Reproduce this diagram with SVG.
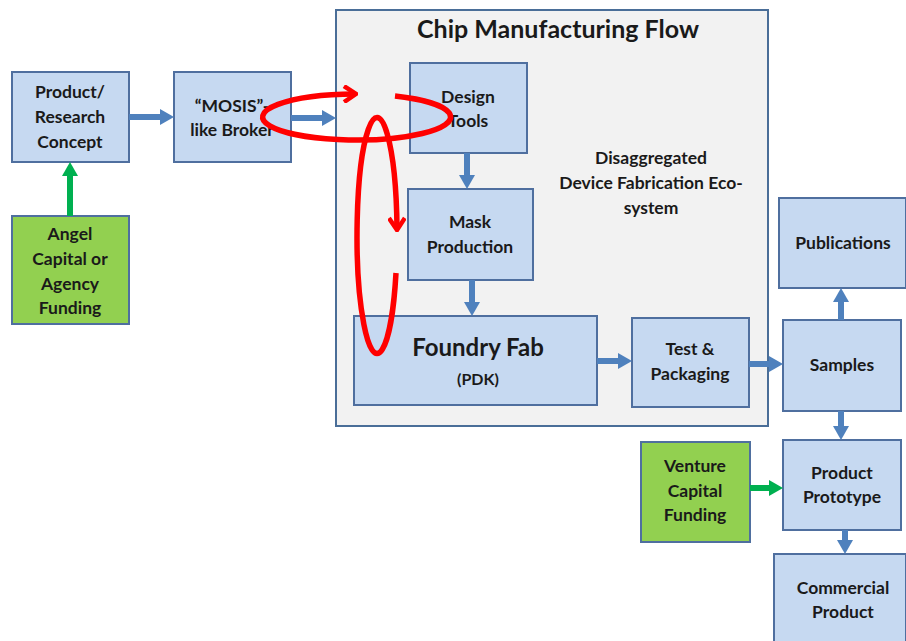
<svg xmlns="http://www.w3.org/2000/svg" width="906" height="641" viewBox="0 0 906 641">
<defs>
<style>
.n{fill:#c6d9f1;stroke:#4f6f9f;stroke-width:2}
.g{fill:#92d050;stroke:#4f6f9f;stroke-width:2}
.c{fill:#f2f2f2;stroke:#4a6e98;stroke-width:2}
text{font-family:Lato,"Open Sans","Liberation Sans",sans-serif;font-weight:bold;fill:#1a1a1a;text-anchor:middle;font-size:17.5px}
.t{font-size:25px}
.f{font-size:24px}
.p{font-size:16px}
.ba{stroke:#4f81bd;stroke-width:6;fill:none;marker-end:url(#bh)}
.ga{stroke:#00b050;stroke-width:6;fill:none;marker-end:url(#gh)}
.r{stroke:#ff0000;stroke-width:5.5;fill:none;marker-end:url(#rh)}
</style>
<marker id="bh" viewBox="0 0 14 16" refX="4" refY="8" markerWidth="14" markerHeight="16" markerUnits="userSpaceOnUse" orient="auto"><path d="M0,0 L14,8 L0,16 z" fill="#4f81bd"/></marker>
<marker id="gh" viewBox="0 0 14 16" refX="4" refY="8" markerWidth="14" markerHeight="16" markerUnits="userSpaceOnUse" orient="auto"><path d="M0,0 L14,8 L0,16 z" fill="#00b050"/></marker>
<marker id="rh" viewBox="0 0 16 18" refX="13" refY="9" markerWidth="16" markerHeight="18" markerUnits="userSpaceOnUse" orient="auto"><path d="M2,1 L14,9 L2,17" fill="none" stroke="#ff0000" stroke-width="4.5"/></marker>
</defs>

<g id="chip-flow"><rect class="c" x="336" y="10" width="432" height="416"/><text class="t" x="558" y="38">Chip Manufacturing Flow</text></g>
<g id="ecosystem-label"><text x="651" y="164">Disaggregated</text><text x="651" y="189">Device Fabrication  Eco-</text><text x="651" y="214">system</text></g>

<g id="product-research"><rect class="n" x="12" y="72" width="117" height="90"/><text x="70" y="98">Product/</text><text x="70" y="123">Research</text><text x="70" y="148">Concept</text></g>
<g id="broker"><rect class="n" x="174" y="72" width="117" height="90"/><text x="232" y="112">“MOSIS”-</text><text x="232" y="136">like Broker</text></g>
<g id="angel"><rect class="g" x="12" y="216" width="117" height="108"/><text x="70" y="240">Angel</text><text x="70" y="265">Capital  or</text><text x="70" y="290">Agency</text><text x="70" y="314">Funding</text></g>
<g id="design-tools"><rect class="n" x="410" y="63" width="117" height="90"/><text x="468" y="103">Design</text><text x="468" y="127">Tools</text></g>
<g id="mask"><rect class="n" x="408" y="189" width="125" height="91"/><text x="470" y="228">Mask</text><text x="470" y="253">Production</text></g>
<g id="foundry"><rect class="n" x="354" y="316" width="243" height="89"/><text class="f" x="478" y="356">Foundry Fab</text><text class="p" x="478" y="385">(PDK)</text></g>
<g id="test"><rect class="n" x="632" y="318" width="117" height="89"/><text x="690" y="355">Test &amp;</text><text x="690" y="380">Packaging</text></g>
<g id="samples"><rect class="n" x="783" y="320" width="118" height="91"/><text x="842" y="371">Samples</text></g>
<g id="publications"><rect class="n" x="779" y="198" width="127" height="90"/><text x="843" y="249">Publications</text></g>
<g id="prototype"><rect class="n" x="783" y="440" width="118" height="90"/><text x="842" y="479">Product</text><text x="842" y="503">Prototype</text></g>
<g id="venture"><rect class="g" x="641" y="442" width="109" height="100"/><text x="695" y="472">Venture</text><text x="695" y="497">Capital</text><text x="695" y="521">Funding</text></g>
<g id="commercial"><rect class="n" x="774" y="554" width="132" height="90"/><text x="843" y="594">Commercial</text><text x="843" y="618">Product</text></g>

<g id="connectors">
<line class="ba" x1="129" y1="117" x2="164" y2="117"/>
<line class="ba" x1="291" y1="118" x2="326" y2="118"/>
<line class="ba" x1="467" y1="153" x2="467" y2="179"/>
<line class="ba" x1="472" y1="280" x2="472" y2="306"/>
<line class="ba" x1="597" y1="361" x2="622" y2="361"/>
<line class="ba" x1="749" y1="364" x2="773" y2="364"/>
<line class="ba" x1="841" y1="320" x2="841" y2="298"/>
<line class="ba" x1="841" y1="411" x2="841" y2="430"/>
<line class="ba" x1="845" y1="530" x2="845" y2="544"/>
<line class="ga" x1="70" y1="216" x2="70" y2="172"/>
<line class="ga" x1="750" y1="488" x2="773" y2="488"/>
<path class="r" d="M395 96 A94 23 0 1 1 355 94"/>
<path class="r" d="M396 273 A20 118 0 1 1 397 229"/>
</g>
</svg>
